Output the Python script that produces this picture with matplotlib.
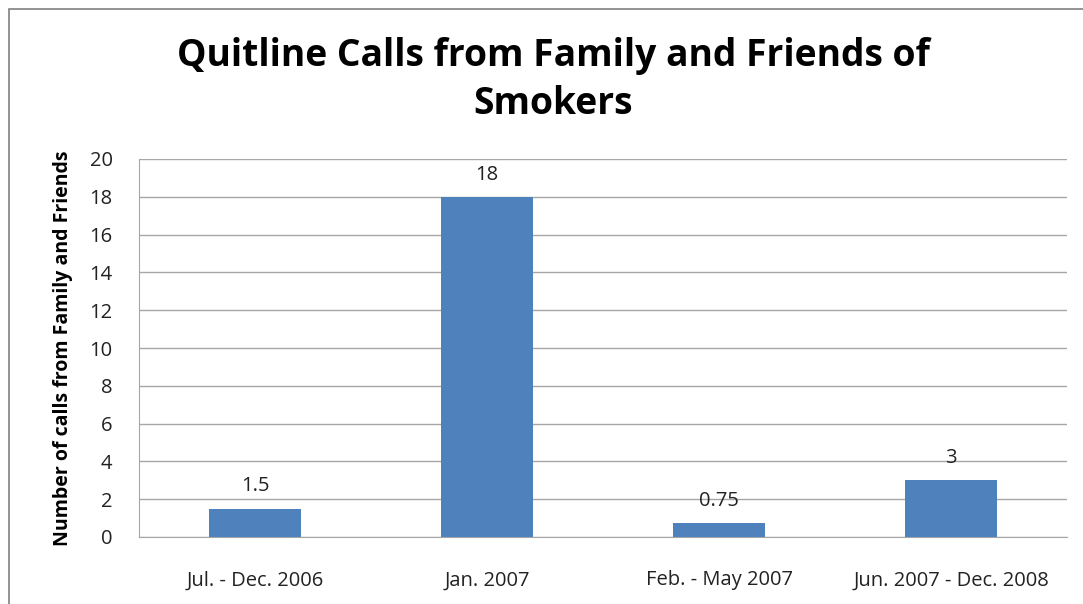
import matplotlib.pyplot as plt
from matplotlib.patches import Rectangle

categories = ["Jul. - Dec. 2006", "Jan. 2007", "Feb. - May 2007", "Jun. 2007 - Dec. 2008"]
calls = [1.5, 18, 0.75, 3]
bar_labels = ["1.5", "18", "0.75", "3"]
y_ticks = list(range(0, 21, 2))

plt.rcParams["font.family"] = ["Open Sans", "DejaVu Sans"]

fig = plt.figure(figsize=(10.83, 6.04), dpi=100)
ax = fig.add_axes([139 / 1083, 1 - 537 / 604, (1067 - 139) / 1083, (537 - 159) / 604])

x = range(len(categories))
bars = ax.bar(x, calls, width=0.4, color="#4F81BD", zorder=3)
for bar, text in zip(bars, bar_labels):
    ax.text(bar.get_x() + bar.get_width() / 2, bar.get_height() + 0.65, text,
            ha="center", va="bottom", fontsize=14.5, color="#222222")

ax.set_xlim(-0.5, len(categories) - 0.5)
ax.set_ylim(0, 20)
ax.set_yticks(y_ticks)
ax.set_xticks(list(x))
ax.set_xticklabels(categories, fontsize=14.5, color="#222222")
ax.tick_params(axis="y", labelsize=14.5, colors="#222222", length=0, pad=19)
ax.tick_params(axis="x", length=0, pad=24)
ax.grid(axis="y", color="#a6a6a6", linewidth=1, zorder=0)
for side in ["top", "right"]:
    ax.spines[side].set_visible(False)
ax.spines["left"].set_color("#a6a6a6")
ax.spines["bottom"].set_color("#a6a6a6")
ax.set_ylabel("Number of calls from Family and Friends", fontsize=14, fontweight="bold", labelpad=12)

fig.text(553 / 1083, 1 - 80 / 604, "Quitline Calls from Family and Friends of\nSmokers",
         ha="center", va="center", fontsize=26.8, fontweight="bold", linespacing=1.35)

fig.patches.append(Rectangle((9 / 1083, -0.1), 1.2, 1 - 9 / 604 + 0.1, transform=fig.transFigure,
                             fill=False, edgecolor="#808080", linewidth=1.2))

fig.savefig("out.png", dpi=100)
